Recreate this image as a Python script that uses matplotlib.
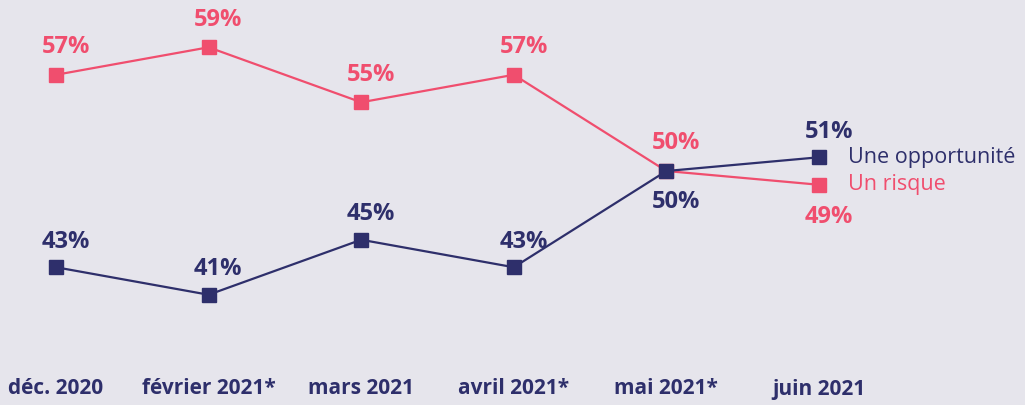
import numpy as np
import matplotlib.pyplot as plt
import matplotlib.transforms as mtransforms

months = ["déc. 2020", "février 2021*", "mars 2021", "avril 2021*", "mai 2021*", "juin 2021"]
opportunite = [43, 41, 45, 43, 50, 51]
risque = [57, 59, 55, 57, 50, 49]
series_names = ["Une opportunité", "Un risque"]

NAVY = "#2e2f6b"
PINK = "#f04e6e"
BG = "#e6e5ec"

plt.rcParams['font.family'] = ['Open Sans', 'DejaVu Sans']

fig = plt.figure(figsize=(10.25, 4.05), dpi=100, facecolor=BG)
ax = fig.add_axes([0, 0, 1, 1])
ax.set_facecolor(BG)
ax.set_xlim(-0.367, 6.35)
ax.set_ylim(32.98, 62.44)
ax.axis("off")

x = np.arange(len(months))

ax.plot(x, risque, color=PINK, lw=1.6, marker="s", ms=9.5, zorder=3)
ax.plot(x, opportunite, color=NAVY, lw=1.6, marker="s", ms=9.5, zorder=4)

# value labels: above the point, below for the lower one where the lines meet
for i, v in enumerate(risque):
    dy = -23.5 if i == len(x) - 1 else 20
    ax.annotate(f"{v}%", (x[i], v), xytext=(7, dy), textcoords="offset points",
                ha="center", va="center", color=PINK, fontsize=17, fontweight="bold")
for i, v in enumerate(opportunite):
    dy = -22.5 if i == 4 else 18.5
    ax.annotate(f"{v}%", (x[i], v), xytext=(7, dy), textcoords="offset points",
                ha="center", va="center", color=NAVY, fontsize=17, fontweight="bold")

# series names next to the last points
ax.annotate(series_names[0], (x[-1], opportunite[-1]), xytext=(21, 0), textcoords="offset points",
            ha="left", va="center", color=NAVY, fontsize=15.5)
ax.annotate(series_names[1], (x[-1], risque[-1]), xytext=(21, 0), textcoords="offset points",
            ha="left", va="center", color=PINK, fontsize=15.5)

# month labels along the bottom
trans = mtransforms.blended_transform_factory(ax.transData, ax.transAxes)
for i, m in enumerate(months):
    ax.text(x[i], 1 - 389 / 405, m, transform=trans, ha="center", va="center",
            color=NAVY, fontsize=15, fontweight="bold")

fig.savefig("out.png", dpi=100, facecolor=BG)
